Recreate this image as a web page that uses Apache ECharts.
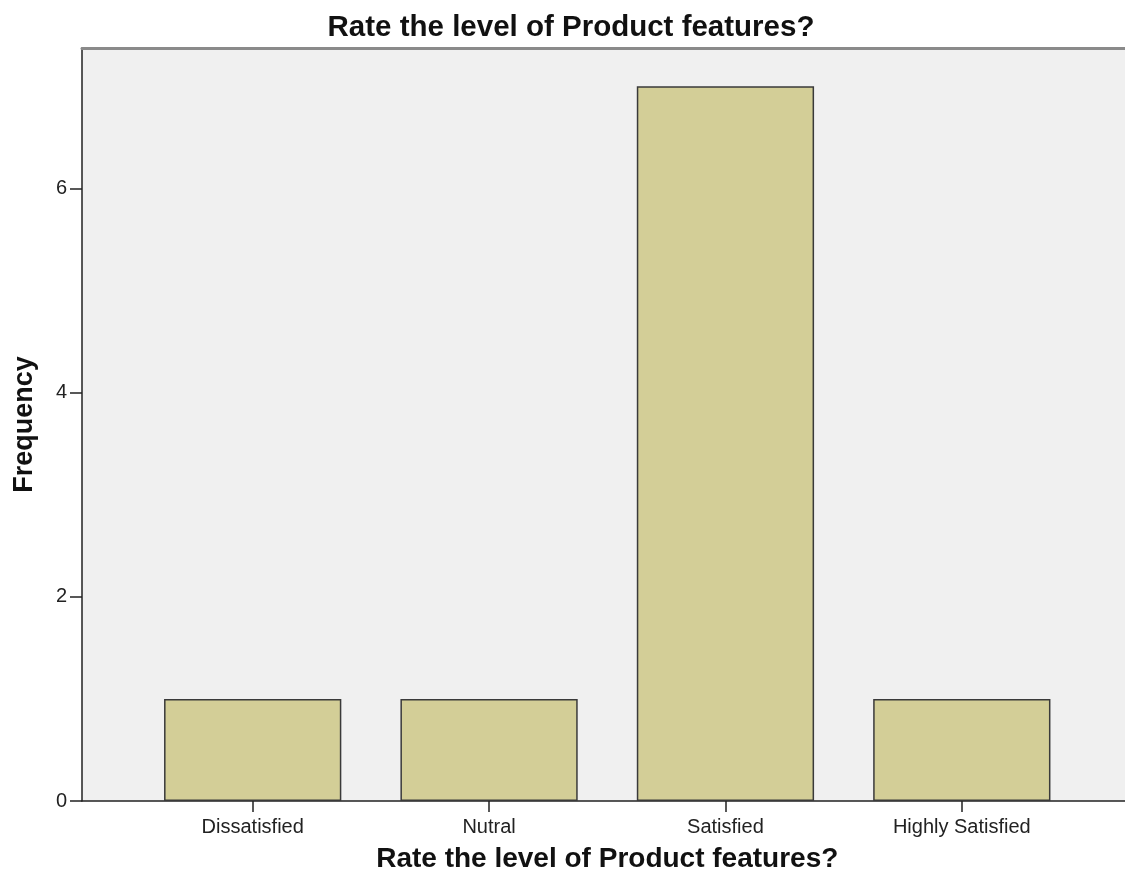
<!DOCTYPE html>
<html>
<head>
<meta charset="utf-8">
<script src="https://cdn.jsdelivr.net/npm/echarts@6/dist/echarts.min.js"></script>
<style>
html,body{margin:0;padding:0;background:#fff;}
#chart{width:1125px;height:883px;}
</style>
</head>
<body>
<div id="chart"></div>
<script>
const chartTitle = 'Rate the level of Product features?';
const xAxisTitle = 'Rate the level of Product features?';
const yAxisTitle = 'Frequency';
const categories = ['Dissatisfied', 'Nutral', 'Satisfied', 'Highly Satisfied'];
const frequency = [1, 1, 7, 1];
const yTickValues = [0, 2, 4, 6];
const yMax = 7.375;

const chart = echarts.init(document.getElementById('chart'), null, {renderer: 'canvas'});
const font = 'Liberation Sans, Arial, sans-serif';
chart.setOption({
  animation: false,
  backgroundColor: '#ffffff',
  title: {
    text: chartTitle,
    left: 566, top: 8, textAlign: 'center',
    textStyle: {fontFamily: font, fontSize: 29.5, fontWeight: 'bold', color: '#111'}
  },
  grid: [
    {left: 82, right: 0, top: 48, bottom: 82, show: true, backgroundColor: '#f0f0f0', borderWidth: 0},
    {left: 134.5, right: 45, top: 48, bottom: 82}
  ],
  xAxis: [
    {type: 'value', gridIndex: 0, min: 0, max: 1, position: 'bottom',
     axisLine: {show: true, lineStyle: {color: '#222', width: 1.5}},
     axisTick: {show: false}, axisLabel: {show: false}, splitLine: {show: false}},
    {type: 'category', gridIndex: 1, data: categories, position: 'bottom',
     axisLine: {show: false},
     axisTick: {show: true, alignWithLabel: true, length: 11, lineStyle: {color: '#222', width: 1.5}},
     axisLabel: {margin: 16, fontFamily: font, fontSize: 20, color: '#222'},
     name: xAxisTitle, nameLocation: 'middle', nameGap: 44,
     nameTextStyle: {fontFamily: font, fontSize: 28, fontWeight: 'bold', color: '#111'}},
    {type: 'value', gridIndex: 0, min: 0, max: 1, position: 'top',
     axisLine: {show: true, lineStyle: {color: '#8a8a8a', width: 3}},
     axisTick: {show: false}, axisLabel: {show: false}, splitLine: {show: false}}
  ],
  yAxis: [
    {type: 'value', gridIndex: 0, min: 0, max: yMax, interval: 2,
     axisLine: {show: true, lineStyle: {color: '#222', width: 1.5}},
     axisTick: {show: true, length: 12, customValues: yTickValues, lineStyle: {color: '#222', width: 1.5}},
     axisLabel: {margin: 15, customValues: yTickValues, fontFamily: font, fontSize: 20, color: '#222'},
     splitLine: {show: false},
     name: yAxisTitle, nameLocation: 'middle', nameGap: 44, nameRotate: 90,
     nameTextStyle: {fontFamily: font, fontSize: 27, fontWeight: 'bold', color: '#111'}},
    {type: 'value', gridIndex: 1, min: 0, max: yMax, interval: 2, show: false}
  ],
  series: [{
    type: 'bar', xAxisIndex: 1, yAxisIndex: 1,
    data: frequency, barWidth: '75%',
    itemStyle: {color: '#d3ce97', borderColor: '#3a3a3a', borderWidth: 1.5}
  }]
});
</script>
</body>
</html>
